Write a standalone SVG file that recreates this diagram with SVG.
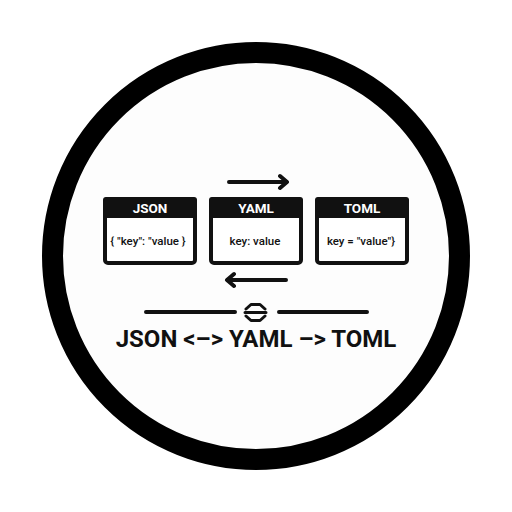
<svg xmlns="http://www.w3.org/2000/svg" width="512" height="512" viewBox="0 0 512 512">
<style>
.box{fill:#fff;stroke:#111;stroke-width:4}
.hdr{fill:#111}
.ht{font-family:Roboto,"Liberation Sans",sans-serif;font-weight:700;font-size:13.5px;fill:#fff;text-anchor:middle}
.bt{font-family:Roboto,"Liberation Sans",sans-serif;font-weight:500;font-size:11.5px;fill:#111;text-anchor:middle}
.ln{fill:none;stroke:#111;stroke-width:4;stroke-linecap:round;stroke-linejoin:round}
.sm{fill:none;stroke:#111;stroke-width:3;stroke-linecap:round;stroke-linejoin:round}
</style>
<rect width="512" height="512" fill="#fff"/>
<circle cx="256" cy="256" r="203.5" fill="#fdfdfd" stroke="#000" stroke-width="21"/>
<g id="json">
<rect class="box" x="105" y="199" width="90" height="64" rx="3"/>
<path class="hdr" d="M106,197 h88 a3,3 0 0 1 3,3 v18 h-94 v-18 a3,3 0 0 1 3,-3z"/>
<text class="ht" x="150" y="213">JSON</text>
<text class="bt" x="148" y="245">{ "key": "value }</text>
</g>
<g id="yaml">
<rect class="box" x="211" y="199" width="90" height="64" rx="3"/>
<path class="hdr" d="M212,197 h88 a3,3 0 0 1 3,3 v18 h-94 v-18 a3,3 0 0 1 3,-3z"/>
<text class="ht" x="256" y="213">YAML</text>
<text class="bt" x="255" y="245">key: value</text>
</g>
<g id="toml">
<rect class="box" x="317" y="199" width="90" height="64" rx="3"/>
<path class="hdr" d="M318,197 h88 a3,3 0 0 1 3,3 v18 h-94 v-18 a3,3 0 0 1 3,-3z"/>
<text class="ht" x="362" y="213">TOML</text>
<text class="bt" x="361" y="245">key = "value"}</text>
</g>
<g id="connectors">
<path class="ln" d="M229,182 H286 M280,176 L287,182 L280,188"/>
<path class="ln" d="M286,280 H228 M234,274 L227,280 L234,286"/>
<path class="ln" d="M146,312 H235 M279,312 H367"/>
<path class="sm" d="M246,309 L251,304.5 H260 L265,309 M246,316 L251,320.5 H260 L265,316 M245,312.5 H266"/>
</g>
<text x="256" y="347" font-family="Roboto,'Liberation Sans',sans-serif" font-weight="700" font-size="24" fill="#111" text-anchor="middle">JSON &lt;–&gt; YAML –&gt; TOML</text>
</svg>
